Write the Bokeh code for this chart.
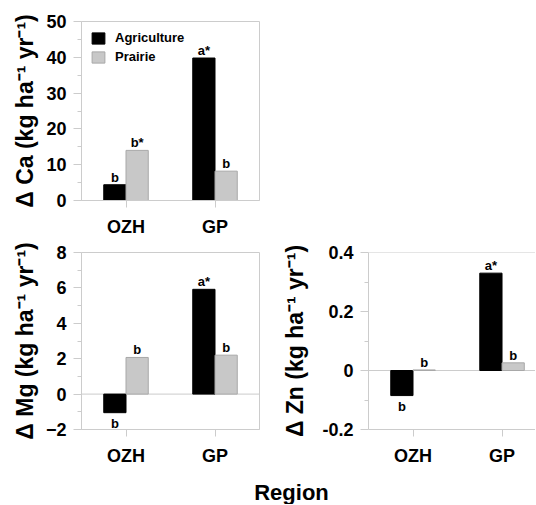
from bokeh.plotting import figure
from bokeh.models import Range1d, FixedTicker, Span, Legend, LegendItem
from bokeh.layouts import column, row
from bokeh.embed import file_html
from bokeh.resources import INLINE
from bokeh.core.properties import value

# ---------------- data ----------------
regions = ["OZH", "GP"]
series = ["Agriculture", "Prairie"]

ca_agri = [4.4, 39.8]
ca_prairie = [14.0, 8.2]
ca_agri_lbl = ["b", "a*"]
ca_prairie_lbl = ["b*", "b"]

mg_agri = [-1.05, 5.92]
mg_prairie = [2.07, 2.2]
mg_agri_lbl = ["b", "a*"]
mg_prairie_lbl = ["b", "b"]

zn_agri = [-0.085, 0.33]
zn_prairie = [0.002, 0.026]
zn_agri_lbl = ["b", "a*"]
zn_prairie_lbl = ["b", "b"]

ca_ticks = [0, 10, 20, 30, 40, 50]
ca_minor = [5, 15, 25, 35, 45]
mg_ticks = [-2, 0, 2, 4, 6, 8]
mg_minor = [-1, 1, 3, 5, 7]
zn_ticks = [-0.2, 0, 0.2, 0.4]
zn_minor = [-0.1, 0.1, 0.3]
zn_tick_labels = {-0.2: "-0.2", 0: "0", 0.2: "0.2", 0.4: "0.4"}

x_title = "Region"

# ---------------- style ----------------
FONT = "Liberation Sans"
AG_FILL = "#000000"
PR_FILL = "#c8c8c8"
PR_LINE = "#a8a8a8"
AXIS = "#cccccc"
BAR_W = 0.25
LEFT = 81


def panel(agri, prairie, agri_lbl, pr_lbl, yr, ticks, minor, ylabel,
          left, top, bottom, right, frame_w, frame_h, xend,
          outline=True, zero_line=False, legend=False, overrides=None,
          label_standoff=4):
    p = figure(x_range=Range1d(-0.5, xend), y_range=Range1d(*yr),
               frame_width=frame_w, frame_height=frame_h,
               min_border_left=left, min_border_top=top,
               min_border_bottom=bottom, min_border_right=right,
               output_backend="svg", toolbar_location=None)
    p.grid.visible = False
    p.background_fill_color = "white"
    p.border_fill_color = "white"
    p.outline_line_color = AXIS if outline else None

    xs = list(range(len(regions)))
    xa = [x - BAR_W / 2 for x in xs]
    xp = [x + BAR_W / 2 for x in xs]

    if zero_line:
        p.add_layout(Span(location=0, dimension="width", line_color=AXIS,
                          line_width=1, level="underlay"))
    if not outline:
        p.add_layout(Span(location=yr[1], dimension="width", line_color=AXIS,
                          line_width=1))

    r1 = p.vbar(x=xa, top=agri, bottom=0, width=BAR_W,
                fill_color=AG_FILL, line_color=AG_FILL, line_width=1)
    r2 = p.vbar(x=xp, top=prairie, bottom=0, width=BAR_W,
                fill_color=PR_FILL, line_color=PR_LINE, line_width=1)

    for xx, vals, lbls in ((xa, agri, agri_lbl), (xp, prairie, pr_lbl)):
        pos = [i for i, v in enumerate(vals) if v >= 0]
        neg = [i for i, v in enumerate(vals) if v < 0]
        if pos:
            p.text(x=[xx[i] for i in pos], y=[vals[i] for i in pos],
                   text=[lbls[i] for i in pos], text_align="center",
                   text_baseline="bottom", y_offset=0,
                   text_font=value(FONT), text_font_style="bold",
                   text_font_size="13px", text_color="black")
        if neg:
            p.text(x=[xx[i] for i in neg], y=[vals[i] for i in neg],
                   text=[lbls[i] for i in neg], text_align="center",
                   text_baseline="top", y_offset=3,
                   text_font=value(FONT), text_font_style="bold",
                   text_font_size="13px", text_color="black")

    # axes
    p.xaxis.ticker = FixedTicker(ticks=xs, minor_ticks=[])
    p.xaxis.major_label_overrides = {i: r for i, r in enumerate(regions)}
    p.yaxis.ticker = FixedTicker(ticks=ticks, minor_ticks=minor)
    if overrides:
        p.yaxis.major_label_overrides = overrides
    for ax in (p.xaxis[0], p.yaxis[0]):
        ax.axis_line_color = AXIS
        ax.major_tick_line_color = AXIS
        ax.minor_tick_line_color = AXIS
        ax.major_tick_in = 0
        ax.minor_tick_in = 0
        ax.major_label_text_font = FONT
        ax.major_label_text_font_style = "bold"
        ax.major_label_text_font_size = "18px"
        ax.major_label_text_color = "black"
    p.xaxis.major_tick_out = 7
    p.xaxis.minor_tick_out = 0
    p.xaxis.major_label_standoff = 9
    p.yaxis.major_tick_out = 8
    p.yaxis.minor_tick_out = 4
    p.yaxis.major_label_standoff = 7
    p.yaxis.axis_label = ylabel
    p.yaxis.axis_label_text_font = FONT
    p.yaxis.axis_label_text_font_style = "bold"
    p.yaxis.axis_label_text_font_size = "23px"
    p.yaxis.axis_label_text_color = "black"
    p.yaxis.axis_label_standoff = label_standoff

    if legend:
        lg = Legend(items=[LegendItem(label=series[0], renderers=[r1]),
                           LegendItem(label=series[1], renderers=[r2])],
                    location="top_left")
        lg.border_line_color = None
        lg.background_fill_alpha = 0
        lg.margin = 9
        lg.padding = 1
        lg.glyph_width = 16
        lg.glyph_height = 14
        lg.label_height = 14
        lg.label_standoff = 9
        lg.spacing = 4
        lg.label_text_font = FONT
        lg.label_text_font_style = "bold"
        lg.label_text_font_size = "13px"
        lg.label_text_color = "black"
        p.add_layout(lg)
    return p


p1 = panel(ca_agri, ca_prairie, ca_agri_lbl, ca_prairie_lbl, (0, 50),
           ca_ticks, ca_minor, "Δ Ca (kg ha⁻¹ yr⁻¹)",
           left=LEFT, top=21, bottom=40, right=11, frame_w=178, frame_h=179,
           xend=1.5, legend=True, label_standoff=5)
p2 = panel(mg_agri, mg_prairie, mg_agri_lbl, mg_prairie_lbl, (-2, 8),
           mg_ticks, mg_minor, "Δ Mg (kg ha⁻¹ yr⁻¹)",
           left=LEFT, top=12, bottom=40, right=11, frame_w=178, frame_h=177,
           xend=1.5, zero_line=True, label_standoff=5)
p3 = panel(zn_agri, zn_prairie, zn_agri_lbl, zn_prairie_lbl, (-0.2, 0.4),
           zn_ticks, zn_minor, "Δ Zn (kg ha⁻¹ yr⁻¹)",
           left=98, top=12, bottom=40, right=0, frame_w=167, frame_h=177,
           xend=1.376, outline=False, zero_line=True, overrides=zn_tick_labels,
           label_standoff=11)

# shared x-axis title: its frame is aligned with the panels' frames (starts at LEFT),
# so the range is expressed in page pixels
p4 = figure(frame_width=535 - LEFT, frame_height=35,
            x_range=Range1d(LEFT, 535), y_range=Range1d(0, 35),
            x_axis_type=None, y_axis_type=None,
            min_border=0, min_border_left=LEFT,
            output_backend="svg", toolbar_location=None)
p4.grid.visible = False
p4.outline_line_color = None
p4.text(x=[291], y=[0], text=[x_title], text_align="center",
        text_baseline="bottom", y_offset=0,
        text_font=value(FONT), text_font_style="bold",
        text_font_size="22px", text_color="black")

layout = column(p1, row(p2, p3, spacing=0), p4, spacing=0)

open("out.html", "w").write(file_html(layout, INLINE))
